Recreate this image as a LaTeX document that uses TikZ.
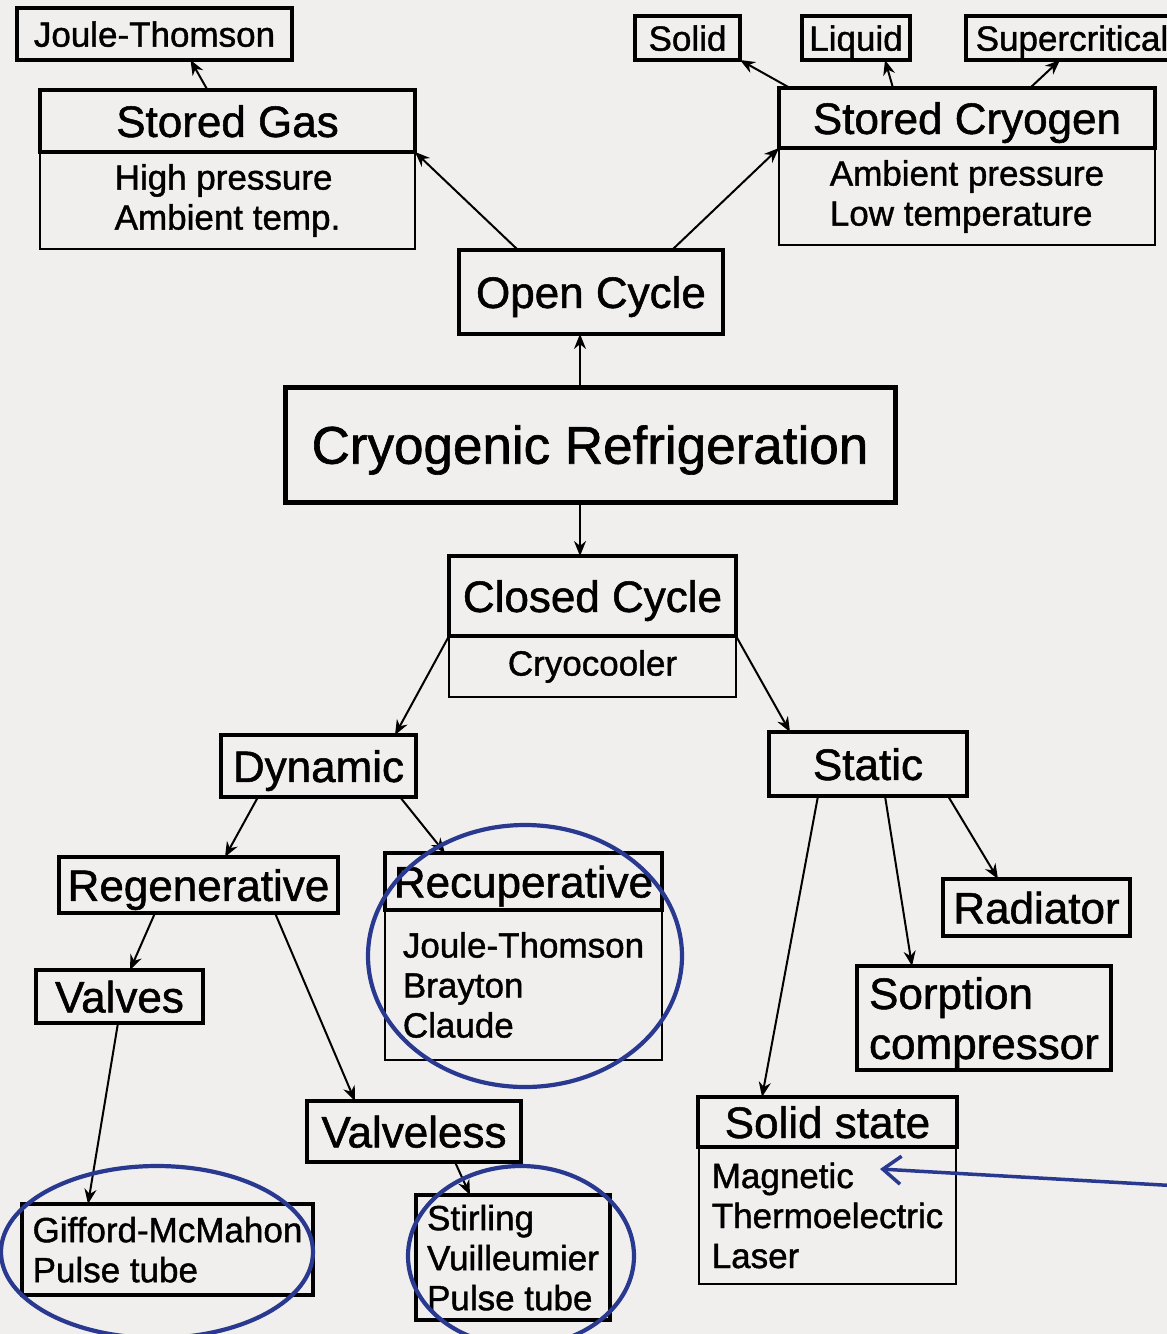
\documentclass[tikz,border=0pt]{standalone}
\usepackage{fontspec}
\setmainfont{Liberation Sans}[FakeBold=1.2]
\usetikzlibrary{arrows.meta, positioning}
\definecolor{paper}{RGB}{241,238,238}
\definecolor{markblue}{RGB}{41,57,144}
\newcommand{\hdrfont}{\fontsize{44}{50}\selectfont}
\newcommand{\smfont}{\fontsize{35}{40}\selectfont}
\newcommand{\ttlfont}{\fontsize{53}{60}\selectfont}

\begin{document}
\begin{tikzpicture}[x=1pt,y=-1pt,>={Stealth[length=15pt,width=12pt]},
  box/.style={draw,line width=3.4pt,inner sep=0pt,outer sep=0pt,font=\hdrfont,
    text depth=0pt},
  tag/.style={box,font=\smfont},
  sub/.style={draw,line width=2.4pt,inner sep=0pt,outer sep=0pt,font=\smfont,
    align=left},
  link/.style={->,line width=2pt},
  hl/.style={draw=markblue,line width=4.2pt}]
 \fill[paper] (0,0) rectangle (1167,1334);
 \useasboundingbox (0,0) rectangle (1167,1334);

 % centre and upper branch
 \node[box,line width=5pt,font=\ttlfont,minimum width=610pt,minimum height=115pt]
   (cryoref) at (590,444.5) {Cryogenic Refrigeration};
 \node[box,minimum width=264pt,minimum height=84pt] (open) at (591,292) {Open Cycle};
 \node[box,minimum width=375pt,minimum height=62pt] (gashead) at (227.5,121) {Stored Gas};
 \node[sub,minimum width=375pt,minimum height=97pt,below=0pt of gashead] (gasbody)
   {High pressure\\Ambient temp.};
 \node[tag,minimum width=275pt,minimum height=52pt] (jt) at (154.5,34) {Joule-Thomson};
 \node[box,minimum width=376pt,minimum height=60pt] (cryohead) at (967,118) {Stored Cryogen};
 \node[sub,minimum width=376pt,minimum height=97pt,below=0pt of cryohead] (cryobody)
   {Ambient pressure\\Low temperature};
 \node[tag,minimum width=105pt,minimum height=44pt] (solid) at (687.5,38) {Solid};
 \node[tag,minimum width=108pt,minimum height=44pt] (liquid) at (856,38) {Liquid};
 \node[tag,minimum width=212pt,minimum height=44pt] (supcrit) at (1072,38) {Supercritical};

 % lower branch
 \node[box,minimum width=287pt,minimum height=80pt] (closedhead) at (592.5,596) {Closed Cycle};
 \node[sub,minimum width=287pt,minimum height=61pt,below=0pt of closedhead] (closedbody)
   {Cryocooler};
 \node[box,minimum width=195pt,minimum height=62pt] (dynamic) at (318.5,766) {Dynamic};
 \node[box,minimum width=198pt,minimum height=64pt] (static) at (868,764) {Static};
 \node[box,minimum width=279pt,minimum height=56pt] (regen) at (198.5,885) {Regenerative};
 \node[box,minimum width=277pt,minimum height=57pt] (recuphead) at (523.5,881.5) {Recuperative};
 \node[sub,minimum width=277pt,minimum height=150pt,below=0pt of recuphead] (recupbody)
   {Joule-Thomson\\Brayton\\Claude};
 \node[box,minimum width=167pt,minimum height=53pt] (valves) at (119.5,996.5) {Valves};
 \node[box,minimum width=214pt,minimum height=61pt] (valveless) at (414,1131.5) {Valveless};
 \node[box,minimum width=187pt,minimum height=57pt] (radiator) at (1036.5,907.5) {Radiator};
 \node[box,align=left,minimum width=254pt,minimum height=104pt] (sorption) at (984,1018)
   {Sorption\\compressor};
 \node[box,minimum width=259pt,minimum height=50pt] (sshead) at (827.5,1122) {Solid state};
 \node[sub,minimum width=257pt,minimum height=137pt,below=0pt of sshead] (ssbody)
   {Magnetic\\Thermoelectric\\Laser};
 \node[tag,align=left,minimum width=291pt,minimum height=91pt] (gmbox) at (167.5,1249.5)
   {Gifford-McMahon\\Pulse tube};
 \node[tag,align=left,minimum width=194pt,minimum height=125pt] (stirlbox) at (513,1257.5)
   {Stirling\\Vuilleumier\\Pulse tube};

 % arrows
 \draw[link] ([xshift=-20pt]gashead.north) -- ([xshift=36pt]jt.south);
 \draw[link] ([xshift=59pt]open.north west) -- (gashead.south east);
 \draw[link] ([xshift=-51pt]open.north east) -- (cryohead.south west);
 \draw[link] ([xshift=11pt]cryohead.north west) -- (solid.south east);
 \draw[link] ([xshift=-74pt]cryohead.north) -- ([xshift=29pt]liquid.south);
 \draw[link] ([xshift=63pt]cryohead.north) -- ([xshift=-12pt]supcrit.south);
 \draw[link] ([xshift=-10pt]cryoref.north) -- ([xshift=-11pt]open.south);
 \draw[link] ([xshift=-10pt]cryoref.south) -- ([xshift=-12.5pt]closedhead.north);
 \draw[link] (closedbody.north west) -- ([xshift=-21pt]dynamic.north east);
 \draw[link] (closedbody.north east) -- ([xshift=21pt]static.north west);
 \draw[link] ([xshift=37pt]dynamic.south west) -- ([xshift=26.5pt]regen.north);
 \draw[link] ([xshift=-16pt]dynamic.south east) -- ([xshift=60pt]recuphead.north west);
 \draw[link] ([xshift=-43.5pt]regen.south) -- ([xshift=10.5pt]valves.north);
 \draw[link] ([xshift=76.5pt]regen.south) -- ([xshift=-59pt]valveless.north);
 \draw[link] ([xshift=-1.5pt]valves.south) -- ([xshift=-79.5pt]gmbox.north);
 \draw[link] ([xshift=41pt]valveless.south) -- ([xshift=-43pt]stirlbox.north);
 \draw[link] ([xshift=-50pt]static.south) -- ([xshift=-65.5pt]sshead.north);
 \draw[link] ([xshift=17pt]static.south) -- ([xshift=-72pt]sorption.north);
 \draw[link] ([xshift=-19pt]static.south east) -- ([xshift=-38.5pt]radiator.north);

 % blue marks
 \draw[hl] (525,956) ellipse [x radius=157, y radius=131];
 \draw[hl] (157,1252) ellipse [x radius=156, y radius=86];
 \draw[hl] (521,1256) ellipse [x radius=113, y radius=90];
 \coordinate (notetail) at (1180,1186);
 \coordinate (magtip) at (880,1169);
 \draw[hl,line width=3.5pt,-{Straight Barb[length=18pt,width=28pt]}] (notetail) -- (magtip);
\end{tikzpicture}
\end{document}
